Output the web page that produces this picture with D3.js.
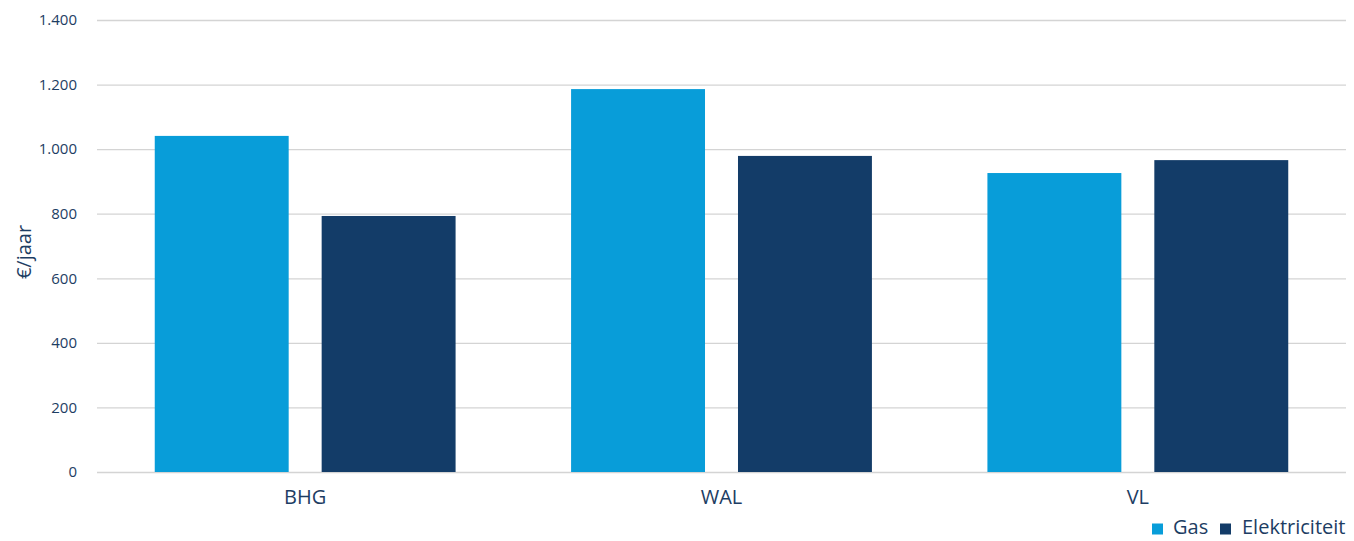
<!DOCTYPE html>
<html>
<head>
<meta charset="utf-8">
<script src="https://cdn.jsdelivr.net/npm/d3@7"></script>
<style>
  body { margin: 0; background: #fff; }
  text { font-family: "Open Sans", "Noto Sans", sans-serif; fill: #1d3d63; }
</style>
</head>
<body>
<svg id="chart" width="1354" height="541"></svg>
<script>
var regions = ["BHG", "WAL", "VL"];
var series = ["Gas", "Elektriciteit"];
var gas = [1041, 1186, 926];
var elektriciteit = [793, 979, 966];
var yTicks = [0, 200, 400, 600, 800, 1000, 1200, 1400];
var colors = ["#089dd9", "#133c68"];

var data = regions.map(function(r, i) {
  return {region: r, values: [gas[i], elektriciteit[i]]};
});

var svg = d3.select("#chart"),
    margin = {top: 20, right: 8, bottom: 69, left: 97},
    width = +svg.attr("width") - margin.left - margin.right,
    height = +svg.attr("height") - margin.top - margin.bottom,
    g = svg.append("g").attr("transform", "translate(" + margin.left + "," + margin.top + ")");

var x0 = d3.scaleBand()
    .domain(regions)
    .range([0, width]);

var x1 = d3.scaleBand()
    .domain(series)
    .range([0, x0.bandwidth()])
    .paddingInner(0.1976)
    .paddingOuter(0.346);

var y = d3.scaleLinear()
    .domain([0, 1400])
    .range([height, 0]);

var fmt = function(d) { return d3.format(",")(d).replace(/,/g, "."); };

// gridlines
g.append("g")
  .selectAll("line")
  .data(yTicks)
  .enter().append("line")
    .attr("x1", 0)
    .attr("x2", width)
    .attr("y1", function(d) { return y(d) + 0.5; })
    .attr("y2", function(d) { return y(d) + 0.5; })
    .attr("stroke", "#d4d4d4")
    .attr("stroke-width", 1.3);

// y axis
var yAxis = g.append("g")
    .call(d3.axisLeft(y).tickValues(yTicks).tickFormat(fmt).tickSize(0).tickPadding(20));
yAxis.select(".domain").remove();
yAxis.selectAll("text")
    .style("font-size", "15px")
    .style("fill", "#1d3d63");

// bars
g.append("g")
  .selectAll("g")
  .data(data)
  .enter().append("g")
    .attr("transform", function(d) { return "translate(" + x0(d.region) + ",0)"; })
  .selectAll("rect")
  .data(function(d) { return d.values.map(function(v, i) { return {key: series[i], value: v, c: colors[i]}; }); })
  .enter().append("rect")
    .attr("x", function(d) { return x1(d.key); })
    .attr("width", x1.bandwidth())
    .attr("y", function(d) { return y(d.value); })
    .attr("height", function(d) { return height - y(d.value); })
    .attr("fill", function(d) { return d.c; });

// x axis
var xAxis = g.append("g")
    .attr("transform", "translate(0," + height + ")")
    .call(d3.axisBottom(x0).tickSize(0).tickPadding(18));
xAxis.select(".domain").remove();
xAxis.selectAll("text")
    .style("font-size", "20px")
    .style("fill", "#1d3d63");

// y label
svg.append("text")
    .attr("transform", "translate(31,252) rotate(-90)")
    .attr("text-anchor", "middle")
    .style("font-size", "20px")
    .text("€/jaar");

// legend
var legend = svg.append("g").attr("transform", "translate(1152,527)");
var lx = [0, 68];
var tx = [21, 22];
series.forEach(function(s, i) {
  var item = legend.append("g").attr("transform", "translate(" + lx[i] + ",0)");
  item.append("rect")
    .attr("x", 0).attr("y", -3.5)
    .attr("width", 11).attr("height", 11)
    .attr("fill", colors[i]);
  item.append("text")
    .attr("x", tx[i])
    .attr("y", 0)
    .attr("dy", "0.35em")
    .style("font-size", "20px")
    .text(s);
});
</script>
</body>
</html>
